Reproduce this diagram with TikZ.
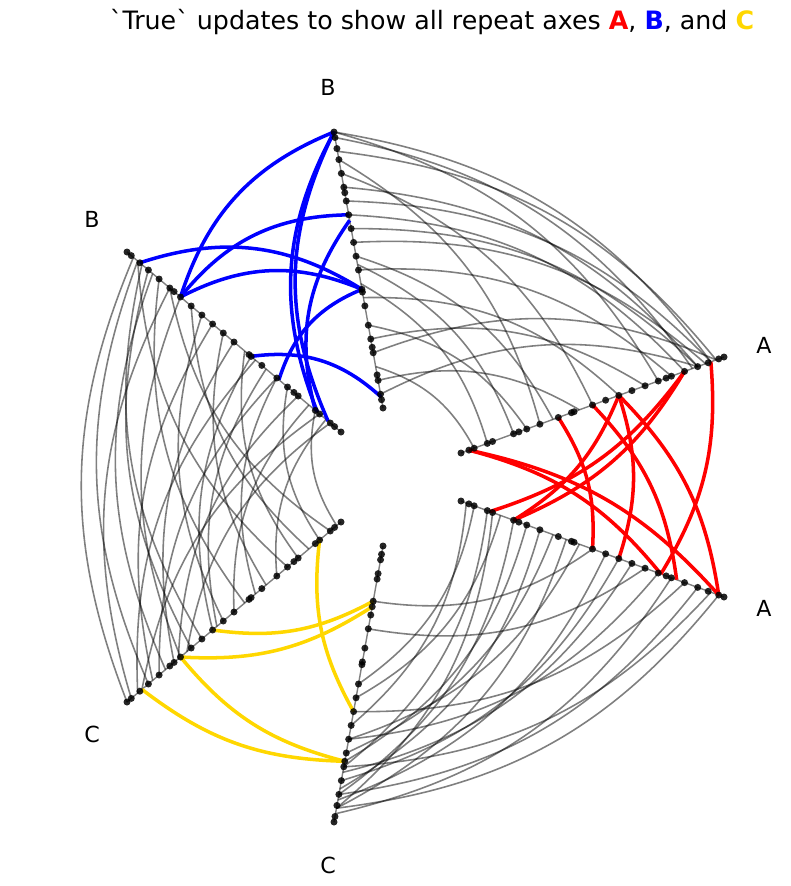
\documentclass[tikz,border=0pt]{standalone}
\usepackage{fontspec}
\setmainfont{DejaVu Sans}[Ligatures=TeXOff]
\usetikzlibrary{calc}
\definecolor{hiveyellow}{RGB}{255,215,0}
\tikzset{
  grayedge/.style={black,opacity=0.5,line width=0.45pt},
  blueedge/.style={blue,line width=1pt},
  rededge/.style={red,line width=1pt},
  yellowedge/.style={hiveyellow,line width=1pt},
  axisline/.style={gray,line width=0.4pt},
  hivedot/.style={fill=black,opacity=0.85},
  axislabel/.style={font=\fontsize{6.3}{7.5}\selectfont}
}
\begin{document}
\begin{tikzpicture}[x=1cm,y=1cm]
 \useasboundingbox (0,0) rectangle (7.9,-8.86);
 % axis end points (inner i, outer o)
 \coordinate (Bti) at (3.83,-4.08); \coordinate (Bto) at (3.34,-1.32);
 \coordinate (Bli) at (3.41,-4.32); \coordinate (Blo) at (1.27,-2.52);
 \coordinate (Aui) at (4.61,-4.53); \coordinate (Auo) at (7.24,-3.57);
 \coordinate (Ali) at (4.61,-5.01); \coordinate (Alo) at (7.24,-5.97);
 \coordinate (Cbi) at (3.83,-5.46); \coordinate (Cbo) at (3.34,-8.22);
 \coordinate (Cli) at (3.41,-5.22); \coordinate (Clo) at (1.27,-7.02);

 % draw axes
 \foreach \ax in {Bt,Bl,Au,Al,Cb,Cl}
   \draw[axisline] (\ax i) -- (\ax o);

 % labels
 \node[axislabel] (labBt) at (3.28,-0.87) {B};
 \node[axislabel] (labBl) at (0.92,-2.19) {B};
 \node[axislabel] (labAu) at (7.64,-3.45) {A};
 \node[axislabel] (labAl) at (7.64,-6.08) {A};
 \node[axislabel] (labCl) at (0.92,-7.34) {C};
 \node[axislabel] (labCb) at (3.28,-8.65) {C};
 \node[font=\fontsize{7.2}{8.5}\selectfont] (title) at (4.32,-0.22)
   {`True` updates to show all repeat axes
    \textcolor{red}{\textbf{A}}, \textcolor{blue}{\textbf{B}}, and \textcolor{hiveyellow}{\textbf{C}}};

 % gray edges between neighbouring axes
 \foreach \a/\b in {1.0/0.95,1.0/0.75,0.98/0.88,0.93/0.97,0.8/0.9,0.75/0.95,0.7/0.85,
                    0.65/0.9,0.6/0.93,0.55/0.35,0.52/0.2,0.5/0.8,0.45/0.1,0.4/0.6,
                    0.3/0.25,0.25/0.7,0.2/0.97,0.15/0.05,0.1/0.45,0.05/0.9,0.85/0.5,0.9/0.3}
   \draw[grayedge] ($(Bti)!\a!(Bto)$) to[bend left=22] ($(Aui)!\b!(Auo)$);
 \foreach \a/\b in {0.98/0.95,0.95/0.8,0.9/0.9,0.85/0.6,0.8/0.97,0.75/0.7,0.6/0.85,
                    0.55/0.92,0.45/0.7,0.4/0.95,0.35/0.75,0.25/0.78,0.2/0.9,0.15/0.55,
                    0.1/0.8,0.05/0.5,0.02/0.65,0.7/0.3,0.65/0.82,0.3/0.88,0.5/0.2,0.12/0.95}
   \draw[grayedge] ($(Ali)!\a!(Alo)$) to[bend left=22] ($(Cbi)!\b!(Cbo)$);
 \foreach \a/\b in {1.0/0.97,0.98/0.8,0.95/0.4,0.93/0.1,0.9/0.95,0.88/0.6,0.85/0.3,
                    0.82/0.88,0.78/0.5,0.76/0.2,0.75/0.75,0.72/0.05,0.7/0.9,0.6/0.42,
                    0.55/0.65,0.5/0.15,0.45/0.85,0.4/0.3,0.35/0.55,0.3/0.07,0.25/0.95,
                    0.2/0.45,0.15/0.7,0.1/0.25,0.05/0.8,0.02/0.12,0.65/0.93,0.58/0.35}
   \draw[grayedge] ($(Cli)!\a!(Clo)$) to[bend left=22] ($(Bli)!\b!(Blo)$);

 % repeat edges
 \foreach \a/\b in {0.75/1.0,0.75/0.43,0.75/0.7,0.94/0.43,0.42/0.04,0.29/0.43,
                    0.11/1.0,0.06/1.0,0.12/0.68}
   \draw[blueedge] ($(Bli)!\a!(Blo)$) to[bend left=25] ($(Bti)!\b!(Bto)$);
 \foreach \a/\b in {0.03/0.98,0.03/0.76,0.85/0.11,0.85/0.2,0.6/0.2,0.37/0.5,
                    0.5/0.82,0.6/0.6,0.6/0.98,0.95/0.76}
   \draw[rededge] ($(Aui)!\a!(Auo)$) to[bend left=18] ($(Ali)!\b!(Alo)$);
 \foreach \a/\b in {0.6/0.2,0.75/0.22,0.93/0.78,0.75/0.78,0.1/0.6}
   \draw[yellowedge] ($(Cli)!\a!(Clo)$) to[bend right=18] ($(Cbi)!\b!(Cbo)$);

 % dots on the axes
 \foreach \ax in {Bt,Bl,Au,Al,Cb,Cl}
   \foreach \t in {0.0,0.03,0.05,0.1,0.12,0.2,0.22,0.25,0.3,0.37,0.42,0.43,0.5,
                   0.55,0.6,0.65,0.7,0.75,0.78,0.8,0.85,0.9,0.94,0.98,1.0}
     \fill[hivedot] ($(\ax i)!\t!(\ax o)$) circle (0.035);
\end{tikzpicture}
\end{document}
